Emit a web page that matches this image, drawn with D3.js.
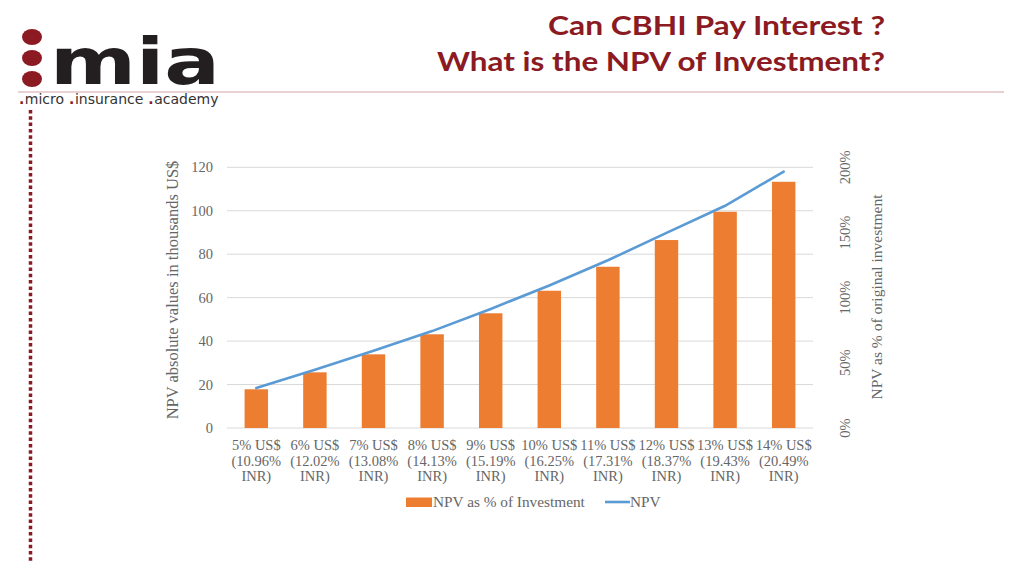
<!DOCTYPE html>
<html><head><meta charset="utf-8">
<script src="https://cdn.jsdelivr.net/npm/d3@7"></script>
<style>html,body{margin:0;padding:0;background:#fff;}svg{display:block;}</style>
</head><body>
<svg id="c" width="1024" height="576"></svg>
<script>
const usdRates = ["5%","6%","7%","8%","9%","10%","11%","12%","13%","14%"];
const inrRates = ["10.96%","12.02%","13.08%","14.13%","15.19%","16.25%","17.31%","18.37%","19.43%","20.49%"];
const npvPctOfInvestment = [29.7, 42.7, 56.5, 71.9, 88.0, 105.3, 123.7, 144.2, 165.9, 188.9];
const npvThousandsUSD = [18.4, 26.8, 35.6, 44.6, 54.8, 65.6, 77.2, 89.8, 102.3, 118.0];
const leftTicks = [0, 20, 40, 60, 80, 100, 120];
const rightTicks = [0, 50, 100, 150, 200];

const svg = d3.select("#c");
const dark = "#8b1a22";
const serif = "'Liberation Serif','Times New Roman',serif";

// ---- header / logo
svg.append("line").attr("x1",18).attr("x2",1004).attr("y1",92).attr("y2",92)
  .attr("stroke","#cfa3a8").attr("stroke-width",1.2);
[37,58,79].forEach(cy => svg.append("ellipse").attr("cx",32).attr("cy",cy).attr("rx",10).attr("ry",8).attr("fill",dark));
svg.append("text").attr("x",50).attr("y",84).attr("font-family","'DejaVu Sans',sans-serif").attr("font-weight","bold")
  .attr("font-size",64).attr("fill","#231f20").attr("textLength",170).attr("lengthAdjust","spacingAndGlyphs").text("mia");
// sub-brand: separate dot + word texts placed side by side
let sx = 19;
["micro","insurance","academy"].forEach(w => {
  const d = svg.append("text").attr("x",sx).attr("y",104).attr("font-family","'DejaVu Sans',sans-serif")
    .attr("font-size",14).attr("font-weight","bold").attr("fill",dark).text(".");
  sx += d.node().getComputedTextLength() + 0.5;
  const t = svg.append("text").attr("x",sx).attr("y",104).attr("font-family","'DejaVu Sans',sans-serif")
    .attr("font-size",14).attr("fill","#333").text(w);
  sx += t.node().getComputedTextLength() + 5;
});
svg.append("line").attr("x1",30.5).attr("x2",30.5).attr("y1",110).attr("y2",562)
  .attr("stroke",dark).attr("stroke-width",3.5).attr("stroke-dasharray","3.5,2.8");

svg.append("text").attr("x",885).attr("y",35).attr("text-anchor","end")
  .attr("font-family","Lato,sans-serif").attr("font-weight",700).attr("font-size",27).attr("fill",dark)
  .attr("textLength",337).attr("lengthAdjust","spacingAndGlyphs").text("Can CBHI Pay Interest ?");
svg.append("text").attr("x",885).attr("y",71).attr("text-anchor","end")
  .attr("font-family","Lato,sans-serif").attr("font-weight",700).attr("font-size",27).attr("fill",dark)
  .attr("textLength",448).attr("lengthAdjust","spacingAndGlyphs").text("What is the NPV of Investment?");

// ---- chart
const x0 = 227, x1 = 813, yTop = 167.3, yBot = 428;
const x = d3.scaleBand().domain(usdRates).range([x0, x1]).paddingInner(0.6).paddingOuter(0.3);
const yL = d3.scaleLinear().domain([0,120]).range([yBot, yTop]);
const yR = d3.scaleLinear().domain([0,200]).range([yBot, yTop]);
const gray = "#666";

svg.append("g").selectAll("line").data(leftTicks).join("line")
  .attr("x1",x0).attr("x2",x1).attr("y1",d=>yL(d)).attr("y2",d=>yL(d))
  .attr("stroke","#d9d9d9").attr("stroke-width",1);

svg.append("g").selectAll("text").data(leftTicks).join("text")
  .attr("x",213).attr("y",d=>yL(d)+5).attr("text-anchor","end")
  .attr("font-family",serif).attr("font-size",14.5).attr("fill",gray).text(d=>d);

svg.append("g").selectAll("text").data(rightTicks).join("text")
  .attr("transform",d=>`translate(850,${yR(d)}) rotate(-90)`).attr("text-anchor","middle")
  .attr("font-family",serif).attr("font-size",14.5).attr("fill",gray).text(d=>d+"%");

svg.append("text").attr("transform",`translate(178,290) rotate(-90)`).attr("text-anchor","middle")
  .attr("font-family",serif).attr("font-size",16.5).attr("fill",gray).text("NPV absolute values in thousands US$");
svg.append("text").attr("transform",`translate(882,297) rotate(-90)`).attr("text-anchor","middle")
  .attr("font-family",serif).attr("font-size",15.5).attr("fill",gray).text("NPV as % of original investment");

svg.append("g").selectAll("rect").data(usdRates).join("rect")
  .attr("x",d=>x(d)).attr("width",x.bandwidth())
  .attr("y",(d,i)=>yR(npvPctOfInvestment[i])).attr("height",(d,i)=>yBot-yR(npvPctOfInvestment[i]))
  .attr("fill","#ed7d31");

const line = d3.line().x((d,i)=>x(usdRates[i])+x.bandwidth()/2).y(d=>yL(d));
svg.append("path").datum(npvThousandsUSD).attr("d",line).attr("fill","none")
  .attr("stroke","#5b9bd5").attr("stroke-width",2.6).attr("stroke-linecap","round");

const xl = svg.append("g").selectAll("text").data(usdRates).join("text")
  .attr("text-anchor","middle").attr("font-family",serif).attr("font-size",14.5).attr("fill",gray);
xl.append("tspan").attr("x",d=>x(d)+x.bandwidth()/2).attr("y",450).text(d=>d+" US$");
xl.append("tspan").attr("x",d=>x(d)+x.bandwidth()/2).attr("y",465.5).text((d,i)=>"("+inrRates[i]);
xl.append("tspan").attr("x",d=>x(d)+x.bandwidth()/2).attr("y",481).text("INR)");

// legend
svg.append("rect").attr("x",406).attr("y",497.5).attr("width",26).attr("height",9.5).attr("fill","#ed7d31");
svg.append("text").attr("x",433).attr("y",507).attr("font-family",serif).attr("font-size",15.3).attr("fill",gray).text("NPV as % of Investment");
svg.append("line").attr("x1",605).attr("x2",630).attr("y1",502).attr("y2",502).attr("stroke","#5b9bd5").attr("stroke-width",2.6);
svg.append("text").attr("x",630).attr("y",507).attr("font-family",serif).attr("font-size",15.3).attr("fill",gray).text("NPV");
</script>
</body></html>
